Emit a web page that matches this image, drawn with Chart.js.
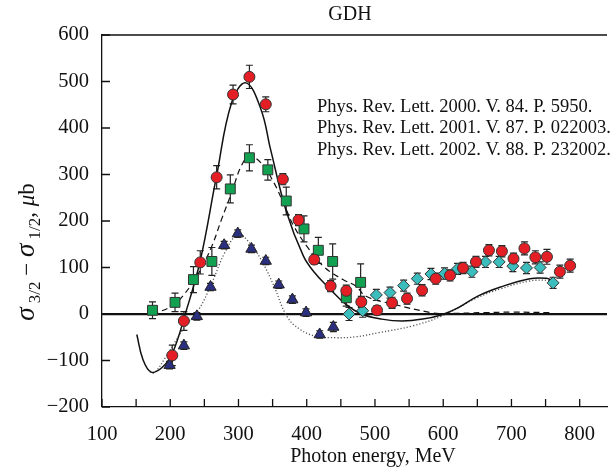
<!DOCTYPE html>
<html><head><meta charset="utf-8">
<script src="https://cdn.jsdelivr.net/npm/chart.js@4.4.1/dist/chart.umd.min.js"></script>
<style>html,body{margin:0;padding:0;background:#fff}#wrap{width:615px;height:472px}</style>
</head><body><div id="wrap"><canvas id="c" width="615" height="472"></canvas></div>
<script>
// ---- text ----
const chartTitle = 'GDH';
const xAxisTitle = 'Photon energy, MeV';
const legendLines = [
  'Phys. Rev. Lett. 2000. V. 84. P. 5950.',
  'Phys. Rev. Lett. 2001. V. 87. P. 022003.',
  'Phys. Rev. Lett. 2002. V. 88. P. 232002.'
];
// ---- ticks ----
const xTickValues = [100, 200, 300, 400, 500, 600, 700, 800];
const xMinorTicks = [150, 250, 350, 450, 550, 650, 750];
const yTickValues = [-200, -100, 0, 100, 200, 300, 400, 500, 600];

// ---- data: red circles ----
const redE   = [203, 220, 244, 268, 292, 316, 340, 365, 388, 411, 435, 458, 480, 503, 525, 547, 569, 589, 610, 629, 648, 667, 686, 703, 719, 735, 752, 771, 786];
const redV   = [-89, -15, 111, 294, 472, 510, 451, 290, 202, 117, 60, 50, 26, 8, 24, 33, 51, 76, 83, 99, 112, 137, 135, 119, 141, 122, 123, 91, 104];
const redErr = [22, 20, 25, 25, 20, 25, 16, 12, 12, 10, 12, 12, 12, 10, 12, 12, 12, 12, 12, 12, 12, 12, 12, 12, 14, 14, 16, 14, 14];
// ---- green squares ----
const greenE   = [174, 207, 234, 261, 288, 316, 343, 370, 396, 417, 438, 458, 479];
const greenV   = [8, 25, 74, 113, 269, 336, 310, 243, 183, 137, 113, 35, 68];
const greenErr = [18, 20, 28, 30, 30, 28, 22, 30, 28, 28, 38, 18, 40];
// ---- blue triangles ----
const blueE   = [199, 220, 239, 259, 279, 299, 319, 340, 359, 379, 399, 419, 439];
const blueV   = [-110, -68, -5, 58, 148, 173, 140, 114, 63, 31, 3, -44, -28];
const blueErr = [8, 8, 8, 8, 8, 8, 8, 8, 8, 8, 8, 8, 10];
// ---- cyan diamonds ----
const cyanE   = [462, 482, 502, 522, 542, 562, 582, 602, 621, 642, 662, 682, 702, 722, 742, 761];
const cyanV   = [0, 7, 41, 46, 61, 76, 86, 87, 97, 91, 112, 112, 103, 99, 100, 67];
const cyanErr = [14, 14, 12, 12, 12, 12, 12, 12, 12, 12, 12, 12, 12, 12, 12, 12];
// ---- curves ----
const solidE = [151, 160, 172, 188, 203, 222, 244, 268, 290, 311, 333, 347, 370, 395, 412, 430, 458, 480, 510, 540, 570, 597, 620, 650, 684, 727, 751, 760];
const solidV = [-44, -98, -125, -115, -85, 0, 115, 298, 455, 497, 440, 354, 221, 125, 88, 60, 20, 0, -11, -15, -11, -2, 12, 38, 58, 76, 77, 72];
const dashE = [174, 200, 218, 242, 261, 275, 290, 304, 316, 333, 352, 369, 381, 400, 424, 453, 472, 487, 530, 582, 600, 660, 700, 758];
const dashV = [0, 15, 38, 89, 146, 203, 261, 318, 339, 325, 282, 228, 189, 146, 103, 74, 60, 38, 20, 3, 1, 3, 4, 3];
const dotE = [170, 177, 194, 222, 242, 261, 280, 299, 314, 333, 352, 371, 390, 414, 443, 472, 506, 554, 597, 650, 684, 727, 755, 762];
const dotV = [-124, -126, -91, -26, 10, 67, 132, 171, 157, 117, 60, -5, -33, -48, -51, -49, -40, -26, -5, 35, 54, 71, 72, 67];

const pts = (xs, ys) => xs.map((x, i) => ({x, y: ys[i]}));
const SERIF = '"Liberation Serif", "DejaVu Serif", serif';

const errorSets = [
  {e: redE, v: redV, err: redErr},
  {e: greenE, v: greenV, err: greenErr},
  {e: blueE, v: blueV, err: blueErr},
  {e: cyanE, v: cyanV, err: cyanErr}
];

const errorBars = {
  id: 'errorBars',
  beforeDatasetsDraw(chart) {
    const {ctx, scales: {x, y}} = chart;
    ctx.save();
    ctx.strokeStyle = '#222';
    ctx.lineWidth = 1.2;
    errorSets.forEach(s => {
      s.e.forEach((e, i) => {
        const px = x.getPixelForValue(e);
        const top = y.getPixelForValue(s.v[i] + s.err[i]);
        const bot = y.getPixelForValue(s.v[i] - s.err[i]);
        ctx.beginPath();
        ctx.moveTo(px, top); ctx.lineTo(px, bot);
        ctx.moveTo(px - 3.5, top); ctx.lineTo(px + 3.5, top);
        ctx.moveTo(px - 3.5, bot); ctx.lineTo(px + 3.5, bot);
        ctx.stroke();
      });
    });
    ctx.restore();
  }
};

const decor = {
  id: 'decor',
  afterDraw(chart) {
    const {ctx, chartArea: a, scales: {x, y}} = chart;
    ctx.save();
    ctx.strokeStyle = '#111';
    ctx.lineWidth = 1.3;
    // top frame line
    ctx.beginPath(); ctx.moveTo(a.left, a.top); ctx.lineTo(a.right, a.top); ctx.stroke();
    // inward ticks
    ctx.beginPath();
    xTickValues.concat(xMinorTicks).forEach(v => {
      const px = x.getPixelForValue(v);
      ctx.moveTo(px, a.bottom); ctx.lineTo(px, a.bottom - 8);
    });
    yTickValues.forEach(v => {
      const py = y.getPixelForValue(v);
      ctx.moveTo(a.left, py); ctx.lineTo(a.left + 8, py);
    });
    ctx.stroke();
    // title
    ctx.fillStyle = '#111';
    ctx.font = '20px ' + SERIF;
    ctx.textAlign = 'center'; ctx.textBaseline = 'middle';
    ctx.fillText(chartTitle, 350, 15);
    // x title
    ctx.fillText(xAxisTitle, 373, 457);
    // legend text
    ctx.font = '18.5px ' + SERIF;
    ctx.textAlign = 'left';
    legendLines.forEach((t, i) => ctx.fillText(t, 317, 107 + i * 21.5));
    // y title (rotated, with subscripts)
    const segs = [
      {t: 'σ', f: 'italic 27px ' + SERIF, dy: 0},
      {t: ' 3/2', f: '17px ' + SERIF, dy: 6},
      {t: ' − ', f: '23px ' + SERIF, dy: 0},
      {t: 'σ', f: 'italic 27px ' + SERIF, dy: 0},
      {t: ' 1/2', f: '17px ' + SERIF, dy: 6},
      {t: ', ', f: '23px ' + SERIF, dy: 0},
      {t: 'μ', f: 'italic 23px ' + SERIF, dy: 0},
      {t: 'b', f: '23px ' + SERIF, dy: 0}
    ];
    let total = 0;
    segs.forEach(s => { ctx.font = s.f; s.w = ctx.measureText(s.t).width; total += s.w; });
    ctx.translate(34, 252);
    ctx.rotate(-Math.PI / 2);
    ctx.textBaseline = 'alphabetic';
    ctx.textAlign = 'left';
    let cx = -total / 2;
    segs.forEach(s => { ctx.font = s.f; ctx.fillText(s.t, cx, s.dy); cx += s.w; });
    ctx.restore();
  }
};

new Chart(document.getElementById('c'), {
  type: 'scatter',
  data: {
    datasets: [
      {data: pts(redE, redV), pointStyle: 'circle', pointRadius: 5.5, backgroundColor: '#e31e24', borderColor: '#333', borderWidth: 1, showLine: false},
      {data: pts(greenE, greenV), pointStyle: 'rect', pointRadius: 7, backgroundColor: '#12a150', borderColor: '#333', borderWidth: 1, showLine: false},
      {data: pts(blueE, blueV), pointStyle: 'triangle', pointRadius: 6.5, backgroundColor: '#2b2f80', borderColor: '#222', borderWidth: 1, showLine: false},
      {data: pts(cyanE, cyanV), pointStyle: 'rectRot', pointRadius: 6, backgroundColor: '#3bbdbd', borderColor: '#333', borderWidth: 1, showLine: false},
      {data: pts(solidE, solidV), showLine: true, pointRadius: 0, borderColor: '#111', borderWidth: 1.5, tension: 0.4, fill: false},
      {data: pts(dashE, dashV), showLine: true, pointRadius: 0, borderColor: '#111', borderWidth: 1.2, borderDash: [6, 4], tension: 0.4, fill: false},
      {data: pts(dotE, dotV), showLine: true, pointRadius: 0, borderColor: '#555', borderWidth: 1.3, borderDash: [1.2, 2], tension: 0.4, fill: false}
    ]
  },
  options: {
    responsive: false,
    animation: false,
    devicePixelRatio: 1,
    layout: {padding: {top: 35, right: 0, left: 0, bottom: 0}},
    plugins: {legend: {display: false}, tooltip: {enabled: false}, title: {display: false}},
    scales: {
      x: {
        type: 'linear', min: 100, max: 840,
        afterBuildTicks: s => { s.ticks = xTickValues.map(v => ({value: v})); },
        afterFit: s => { s.height = 65; },
        grid: {display: false, drawTicks: false},
        border: {display: true, color: '#111', width: 1.3},
        ticks: {font: {family: SERIF, size: 20.5}, color: '#111', padding: 15, maxRotation: 0, autoSkip: false}
      },
      y: {
        type: 'linear', min: -200, max: 600,
        afterBuildTicks: s => { s.ticks = yTickValues.map(v => ({value: v})); },
        afterFit: s => { s.width = 102; },
        grid: {drawTicks: false, color: c => c.tick && c.tick.value === 0 ? '#111' : 'rgba(0,0,0,0)', lineWidth: c => c.tick && c.tick.value === 0 ? 2.2 : 0},
        border: {display: true, color: '#111', width: 1.3},
        ticks: {font: {family: SERIF, size: 20.5}, color: '#111', padding: 13, autoSkip: false,
          callback: v => v < 0 ? '\u2212' + Math.abs(v) : String(v)}
      }
    }
  },
  plugins: [errorBars, decor]
});
</script>
</body></html>
